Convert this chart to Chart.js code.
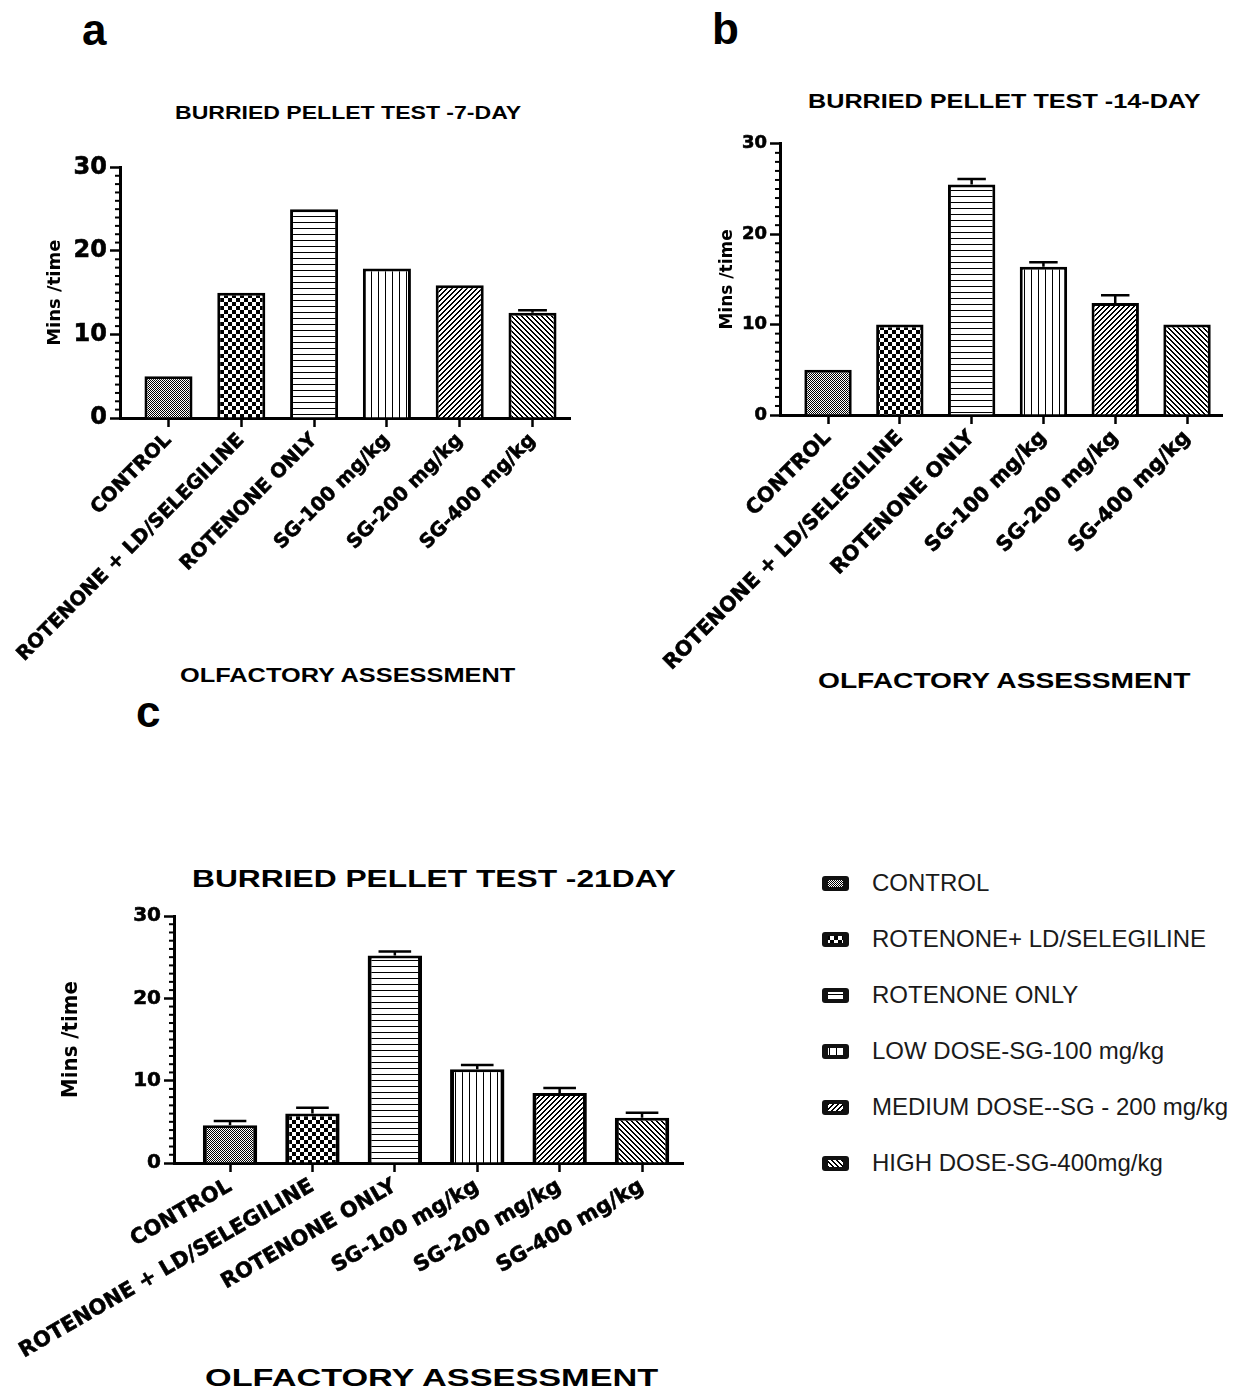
<!DOCTYPE html>
<html>
<head>
<meta charset="utf-8">
<script src="https://cdn.jsdelivr.net/npm/chart.js@4.4.1/dist/chart.umd.min.js"></script>
<style>
  html, body { margin: 0; padding: 0; background: #fff; }
  body { width: 1244px; height: 1389px; position: relative; overflow: hidden; }
  .abs { position: absolute; }
  .panel { font-family: 'Liberation Sans', Arial, sans-serif; font-weight: bold; font-size: 44px; line-height: 1; color: #000; }
  .ttl { font-family: 'Liberation Sans', Arial, sans-serif; font-weight: bold; white-space: nowrap; line-height: 1; color: #000; transform-origin: 0 0; }
  .legend-row { position: absolute; left: 822px; height: 30px; display: flex; align-items: center; }
  .legend-row span { margin-left: 23px; font-family: 'Liberation Sans', Arial, sans-serif; font-size: 24px; color: #1a1a1a; white-space: nowrap; }
</style>
</head>
<body>

<div class="abs panel" style="left:82px; top:8px;">a</div>
<div class="abs panel" style="left:712px; top:7px;">b</div>
<div class="abs panel" style="left:136px; top:690px;">c</div>

<div class="abs ttl" style="left:175px; top:104px; font-size:18px; transform:scaleX(1.28);">BURRIED PELLET TEST -7-DAY</div>
<div class="abs ttl" style="left:808px; top:90px; font-size:21px; transform:scaleX(1.2);">BURRIED PELLET TEST -14-DAY</div>
<div class="abs ttl" style="left:192px; top:868px; font-size:23px; transform:scaleX(1.38);">BURRIED PELLET TEST -21DAY</div>

<div class="abs ttl" style="left:180px; top:666px; font-size:19.5px; transform:scaleX(1.3);">OLFACTORY ASSESSMENT</div>
<div class="abs ttl" style="left:818px; top:670px; font-size:22px; transform:scaleX(1.28);">OLFACTORY ASSESSMENT</div>
<div class="abs ttl" style="left:205px; top:1367px; font-size:23px; transform:scaleX(1.49);">OLFACTORY ASSESSMENT</div>

<canvas id="day7" class="abs" width="600" height="520" style="left:0px; top:150px;"></canvas>
<canvas id="day14" class="abs" width="584" height="540" style="left:660px; top:130px;"></canvas>
<canvas id="day21" class="abs" width="700" height="480" style="left:0px; top:900px;"></canvas>

<div id="legend"></div>

<script>
// groups on the x axis
const groups = ['CONTROL', 'ROTENONE + LD/SELEGILINE', 'ROTENONE ONLY', 'SG-100 mg/kg', 'SG-200 mg/kg', 'SG-400 mg/kg'];
const legendLabels = ['CONTROL', 'ROTENONE+ LD/SELEGILINE', 'ROTENONE ONLY', 'LOW DOSE-SG-100 mg/kg', 'MEDIUM DOSE--SG - 200 mg/kg', 'HIGH DOSE-SG-400mg/kg'];

// mean values (mins/time) and upper error (SEM)
const day7 = [5.0, 15.0, 25.0, 17.9, 15.9, 12.6];
const day7Err = [0, 0, 0, 0, 0, 0.3];
const day14 = [5.0, 10.0, 25.5, 16.4, 12.4, 10.0];
const day14Err = [0, 0, 0.6, 0.5, 0.85, 0];
const day21 = [4.6, 6.0, 25.2, 11.4, 8.5, 5.5];
const day21Err = [0.5, 0.7, 0.5, 0.5, 0.6, 0.6];

const yMin = 0;
const yMax = 30;
const yStep = 10;

// fill patterns, one per group
function makePattern(kind) {
    const c = document.createElement('canvas');
    const g = c.getContext('2d');
    if (kind === 'fine') {
        c.width = 2; c.height = 2;
        g.fillStyle = '#fff'; g.fillRect(0, 0, 2, 2);
        g.fillStyle = '#000'; g.fillRect(0, 0, 1, 1); g.fillRect(1, 1, 1, 1);
    } else if (kind === 'checker') {
        c.width = 8; c.height = 8;
        g.fillStyle = '#fff'; g.fillRect(0, 0, 8, 8);
        g.fillStyle = '#000'; g.fillRect(0, 0, 4, 4); g.fillRect(4, 4, 4, 4);
    } else if (kind === 'hlines') {
        c.width = 1; c.height = 6;
        g.fillStyle = '#fff'; g.fillRect(0, 0, 1, 6);
        g.fillStyle = '#000'; g.fillRect(0, 0, 1, 1);
    } else if (kind === 'vlines') {
        c.width = 7; c.height = 1;
        g.fillStyle = '#fff'; g.fillRect(0, 0, 7, 1);
        g.fillStyle = '#000'; g.fillRect(0, 0, 1, 1);
    } else if (kind === 'diag' || kind === 'bdiag') {
        c.width = 5; c.height = 5;
        g.fillStyle = '#fff'; g.fillRect(0, 0, 5, 5);
        g.fillStyle = '#000';
        for (let i = 0; i < 5; i++) {
            const yy = kind === 'diag' ? 4 - i : i;
            g.fillRect(i, yy, 1, 1);
            g.fillRect((i + 1) % 5, yy, 1, 1);
        }
    }
    return g.createPattern(c, 'repeat');
}
const patterns = ['fine', 'checker', 'hlines', 'vlines', 'diag', 'bdiag'].map(makePattern);

const errorBars = {
    id: 'errorBars',
    afterDatasetsDraw(chart, args, opts) {
        const ctx = chart.ctx;
        const y = chart.scales.y;
        const meta = chart.getDatasetMeta(0);
        const data = chart.data.datasets[0].data;
        ctx.save();
        ctx.strokeStyle = '#000';
        ctx.lineWidth = 2.5;
        meta.data.forEach((bar, i) => {
            const e = opts.errors[i];
            if (!e) return;
            const top = y.getPixelForValue(data[i].y);
            const end = y.getPixelForValue(data[i].y + e);
            const half = bar.width * 0.3;
            ctx.beginPath();
            ctx.moveTo(bar.x, top);
            ctx.lineTo(bar.x, end);
            ctx.moveTo(bar.x - half, end);
            ctx.lineTo(bar.x + half, end);
            ctx.stroke();
        });
        ctx.restore();
    }
};

const minorTicks = {
    id: 'minorTicks',
    afterDraw(chart, args, opts) {
        const ctx = chart.ctx;
        const y = chart.scales.y;
        ctx.save();
        ctx.strokeStyle = '#000';
        ctx.lineWidth = 2;
        for (let v = y.min + 1; v < y.max; v++) {
            if (v % yStep === 0) continue;
            const py = y.getPixelForValue(v);
            ctx.beginPath();
            ctx.moveTo(y.right - opts.length, py);
            ctx.lineTo(y.right, py);
            ctx.stroke();
        }
        ctx.restore();
    }
};

function makeChart(id, values, errors, look) {
    new Chart(document.getElementById(id), {
        type: 'bar',
        data: {
            datasets: [{
                data: values.map((v, i) => ({ x: i, y: v })),
                backgroundColor: patterns,
                borderColor: '#000',
                borderWidth: look.barBorder,
                borderSkipped: 'start',
                barPercentage: 0.66,
                categoryPercentage: 1
            }]
        },
        options: {
            responsive: false,
            animation: false,
            events: [],
            layout: { padding: { top: look.padTop, right: look.padRight, left: 0, bottom: 0 } },
            plugins: {
                legend: { display: false },
                tooltip: { enabled: false },
                errorBars: { errors: errors },
                minorTicks: { length: 5 }
            },
            scales: {
                x: {
                    type: 'linear',
                    min: look.xMin,
                    max: look.xMax,
                    offset: false,
                    bounds: 'data',
                    afterBuildTicks: (scale) => { scale.ticks = groups.map((g, i) => ({ value: i })); },
                    afterFit: (scale) => { scale.height = look.xHeight; },
                    border: { color: '#000', width: 3 },
                    grid: { offset: false, drawOnChartArea: false, tickLength: 9, tickWidth: 2.5, tickColor: '#000' },
                    ticks: {
                        autoSkip: false,
                        minRotation: look.rot,
                        maxRotation: look.rot,
                        padding: 2,
                        color: '#000',
                        textStrokeColor: '#000',
                        textStrokeWidth: 0.6,
                        font: { family: "'DejaVu Sans', sans-serif", weight: 'bold', size: look.labelFont },
                        callback: (v) => groups[v]
                    }
                },
                y: {
                    min: yMin,
                    max: yMax,
                    afterFit: (scale) => { scale.width = look.yWidth; },
                    border: { color: '#000', width: 3 },
                    grid: { drawOnChartArea: false, tickLength: 10, tickWidth: 2.5, tickColor: '#000' },
                    ticks: {
                        stepSize: yStep,
                        padding: 3,
                        color: '#000',
                        textStrokeColor: '#000',
                        textStrokeWidth: 0.6,
                        font: { family: "'DejaVu Sans', sans-serif", weight: 'bold', size: look.tickFont }
                    },
                    title: {
                        display: true,
                        text: 'Mins /time',
                        color: '#000',
                        padding: { top: look.titlePad, bottom: 0 },
                        font: { family: look.titleFamily, weight: 'bold', size: look.titleSize }
                    }
                }
            }
        },
        plugins: [errorBars, minorTicks]
    });
}

makeChart('day7', day7, day7Err, {
    padTop: 14, padRight: 30, yWidth: 120, xHeight: 252, xMin: -0.666, xMax: 5.515,
    tickFont: 24, labelFont: 19.5, rot: 45, barBorder: 3,
    titleFamily: "'DejaVu Sans', sans-serif", titleSize: 18, titlePad: 45
});
makeChart('day14', day14, day14Err, {
    padTop: 13, padRight: 22, yWidth: 120, xHeight: 255, xMin: -0.669, xMax: 5.487,
    tickFont: 18, labelFont: 20.5, rot: 45, barBorder: 3,
    titleFamily: "'DejaVu Sans', sans-serif", titleSize: 17, titlePad: 57
});
makeChart('day21', day21, day21Err, {
    padTop: 16, padRight: 17, yWidth: 174, xHeight: 217, xMin: -0.68, xMax: 5.497,
    tickFont: 20, labelFont: 21, rot: 30, barBorder: { top: 3, left: 4, right: 4, bottom: 0 },
    titleFamily: "'DejaVu Sans Condensed', 'DejaVu Sans', sans-serif", titleSize: 22, titlePad: 58
});

// legend (HTML) with the same fills
const legend = document.getElementById('legend');
legendLabels.forEach((label, i) => {
    const row = document.createElement('div');
    row.className = 'legend-row';
    row.style.top = (868 + 56 * i) + 'px';
    const sw = document.createElement('canvas');
    sw.width = 27; sw.height = 15;
    const g = sw.getContext('2d');
    g.fillStyle = '#111';
    g.beginPath();
    g.roundRect(0, 0, 27, 15, 3);
    g.fill();
    g.fillStyle = patterns[i];
    g.fillRect(6, 4, 15, 7);
    const txt = document.createElement('span');
    txt.textContent = label;
    row.appendChild(sw);
    row.appendChild(txt);
    legend.appendChild(row);
});
</script>
</body>
</html>
